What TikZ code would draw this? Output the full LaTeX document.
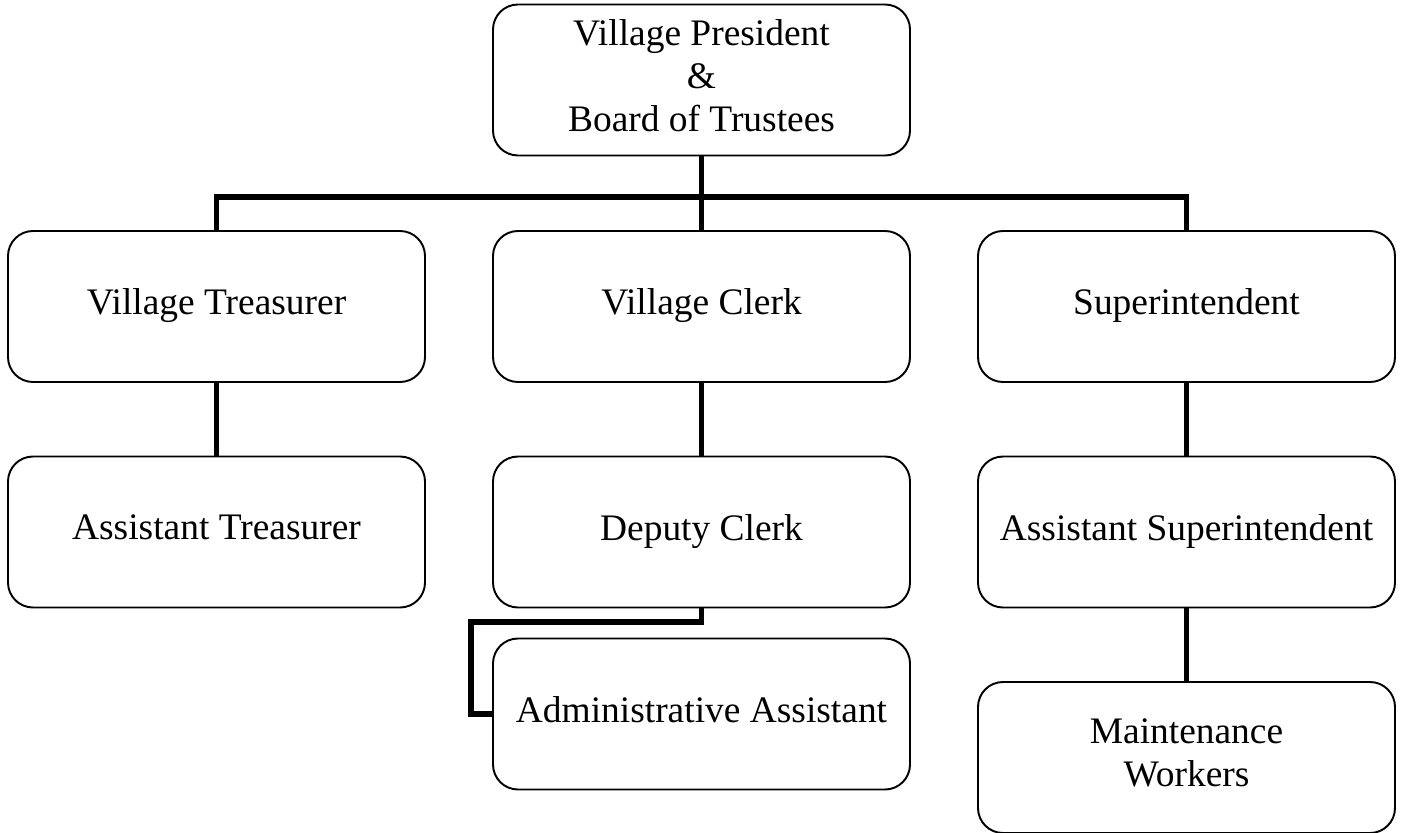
\documentclass[tikz,border=0pt]{standalone}
\usepackage{fontspec}
\setmainfont{Liberation Serif}
\usepackage{tikz}

\newcommand{\poststrut}{\rule[-5.5pt]{0pt}{19pt}}

\begin{document}
\begin{tikzpicture}[
    post/.style={draw, line width=1.1pt, rounded corners=0.5cm, minimum width=8.34cm,
        minimum height=3.02cm, align=center, font=\fontsize{21.3}{24.5}\selectfont, inner sep=0pt,
        execute at begin node=\poststrut, execute at end node=\poststrut},
    link/.style={line width=2.9pt}]
            \useasboundingbox (0, 0) rectangle (28.06, -16.66);

            \node[post] (pres) at (14.03, -1.6) {Village President\\\&\\Board of Trustees};

            \node[post] (treas) at (4.33, -6.13) {Village Treasurer};
            \node[post] (clerk) at (14.03, -6.13) {Village Clerk};
            \node[post] (sup) at (23.73, -6.13) {Superintendent};

            \node[post] (atreas) at (4.33, -10.64) {Assistant Treasurer};
            \node[post] (deputy) at (14.03, -10.64) {Deputy Clerk};
            \node[post] (asup) at (23.73, -10.64) {Assistant Superintendent};

            \node[post] (admin) at (14.03, -14.28) {Administrative Assistant};
            \node[post] (maint) at (23.73, -15.15) {Maintenance\\Workers};

            \coordinate (bus) at (14.03, -3.94);
            \coordinate (elbow) at (9.42, -12.44);

            \draw[link] (pres) -- (clerk);
            \draw[link] (treas.north) |- (bus) -| (sup.north);
            \draw[link] (treas) -- (atreas);
            \draw[link] (clerk) -- (deputy);
            \draw[link] (sup) -- (asup) -- (maint);
            \draw[link] (deputy.south) |- (elbow) |- (admin.west);

        \end{tikzpicture}
\end{document}
